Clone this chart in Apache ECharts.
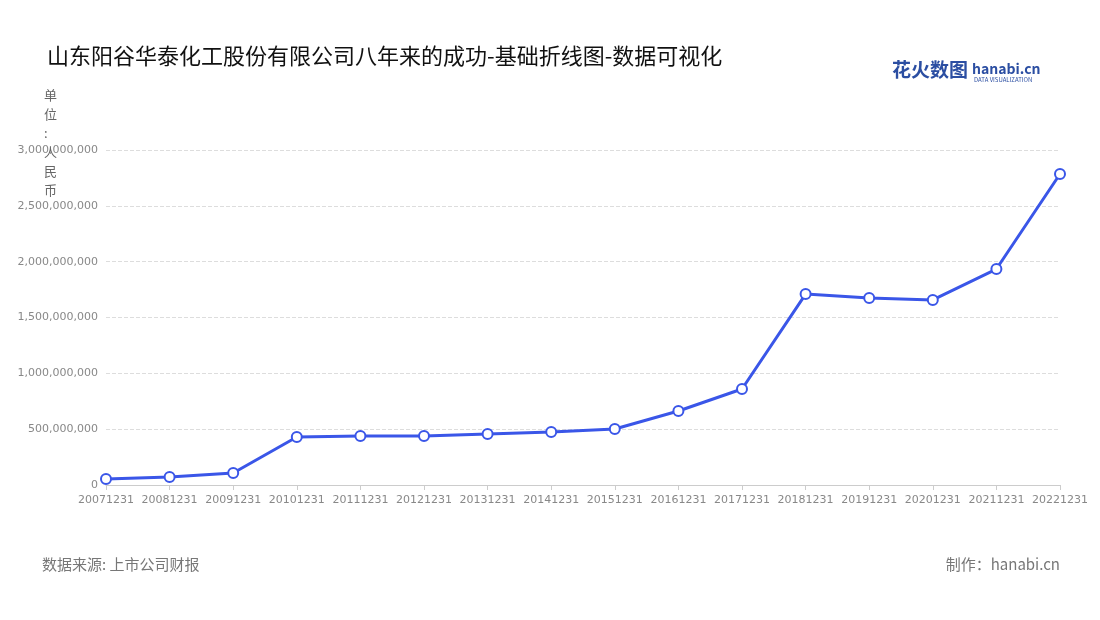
<!DOCTYPE html>
<html><head><meta charset="utf-8">
<script src="https://cdn.jsdelivr.net/npm/echarts@6/dist/echarts.min.js"></script>
<style>html,body{margin:0;padding:0;background:#fff}#c{width:1100px;height:620px}</style>
</head><body><div id="c"></div>
<script>
const categories = ['20071231','20081231','20091231','20101231','20111231','20121231','20131231','20141231','20151231','20161231','20171231','20181231','20191231','20201231','20211231','20221231'];
const values = [54000000,72000000,107000000,430000000,439000000,439000000,457000000,475000000,501000000,663000000,860000000,1710000000,1675000000,1657000000,1934000000,2785000000];
const yTicks = {min:0, max:3000000000, interval:500000000};
const font = '"Noto Sans CJK SC","Noto Sans",sans-serif';
const numFont = '"DejaVu Sans",sans-serif';
const chart = echarts.init(document.getElementById('c'));
chart.setOption({
  animation:false,
  textStyle:{fontFamily:font},
  title:{text:'山东阳谷华泰化工股份有限公司八年来的成功-基础折线图-数据可视化',left:42,top:40,textStyle:{fontSize:22,fontWeight:'normal',color:'#111',fontFamily:font}},
  grid:{left:106,right:40,top:150,bottom:135},
  xAxis:{type:'category',data:categories,boundaryGap:false,
    axisLine:{lineStyle:{color:'#ccc'}},axisTick:{show:true,lineStyle:{color:'#ccc'}},
    axisLabel:{color:'#888',fontSize:11,interval:0,margin:10,fontFamily:numFont}},
  yAxis:{type:'value',min:yTicks.min,max:yTicks.max,interval:yTicks.interval,
    axisLine:{show:false},axisTick:{show:false},
    axisLabel:{color:'#888',fontSize:11,fontFamily:numFont,formatter:v=>v.toLocaleString('en-US')},
    splitLine:{lineStyle:{color:'#ddd',type:'dashed'}}},
  series:[{type:'line',data:values,symbol:'circle',symbolSize:10,
    lineStyle:{color:'#3a56e8',width:3},
    itemStyle:{color:'#fff',borderColor:'#3a56e8',borderWidth:2}}],
  graphic:[
    {type:'text',left:44,top:86,style:{text:'单\n位\n:\n人\n民\n币',fill:'#666',fontSize:13,lineHeight:19,fontFamily:font}},
    {type:'text',left:42,top:557,style:{text:'数据来源: 上市公司财报',fill:'#777',fontSize:15,fontFamily:font}},
    {type:'text',right:40,top:557,style:{text:'制作：hanabi.cn',fill:'#777',fontSize:15,fontFamily:font}},
    {type:'text',left:892,top:60,style:{text:'花火数图',fill:'#2b4ea2',fontSize:19,fontWeight:'bold',fontFamily:font}},
    {type:'text',left:972,top:62,style:{text:'hanabi.cn',fill:'#2b4ea2',fontSize:14,fontWeight:'bold',fontFamily:font}},
    {type:'text',left:974,top:77,style:{text:'DATA VISUALIZATION',fill:'#2b4ea2',fontSize:6,fontFamily:font}}
  ]
});
</script></body></html>
